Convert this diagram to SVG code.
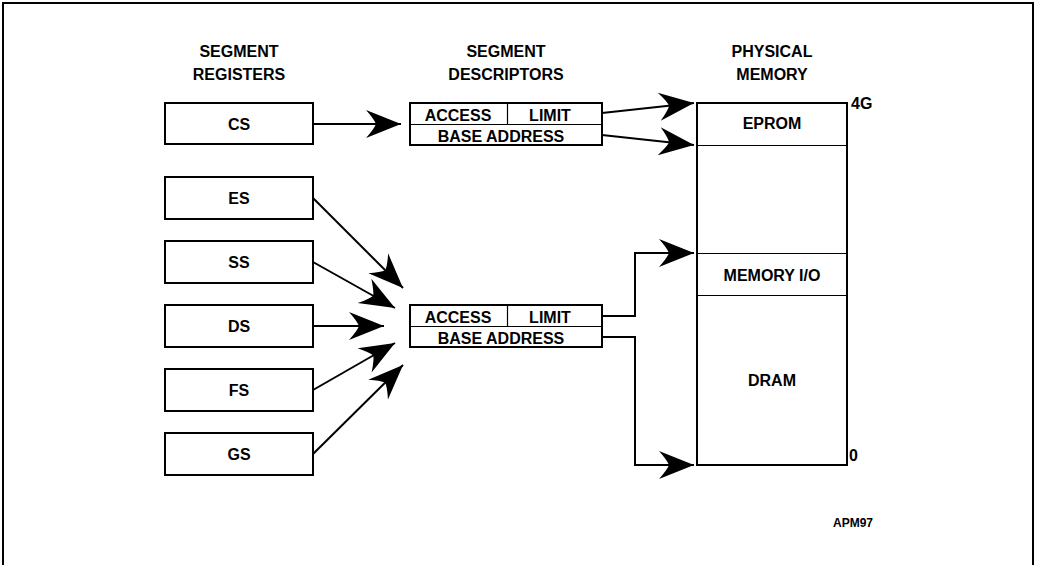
<svg xmlns="http://www.w3.org/2000/svg" width="1042" height="565" viewBox="0 0 1042 565">
<style>
text{font-family:"Liberation Sans",Arial,sans-serif;font-weight:bold;fill:#000;text-anchor:middle}
.t16{font-size:16px}
.t12{font-size:12px}
.box{fill:#fff;stroke:#000;stroke-width:2}
.thin{stroke:#000;stroke-width:1.2;fill:none}
.conn{stroke:#000;stroke-width:2;fill:none;marker-end:url(#ah)}
</style>
<defs>
<marker id="ah" markerUnits="userSpaceOnUse" viewBox="-40 -16 44 32" markerWidth="44" markerHeight="32" refX="0" refY="0" orient="auto">
<path d="M0,0 L-35,-14 Q-27,-5 -25,0 Q-27,5 -35,14 Z" fill="#000"/>
</marker>
</defs>
<rect x="3" y="3" width="1030" height="570" fill="#fff" stroke="#000" stroke-width="2"/>
<g id="headers">
<text class="t16" x="239" y="57">SEGMENT</text>
<text class="t16" x="239" y="80">REGISTERS</text>
<text class="t16" x="506" y="57">SEGMENT</text>
<text class="t16" x="506" y="80">DESCRIPTORS</text>
<text class="t16" x="772" y="57">PHYSICAL</text>
<text class="t16" x="772" y="80">MEMORY</text>
</g>
<g id="reg-cs"><rect class="box" x="165" y="103" width="148" height="41"/><text class="t16" x="239" y="130">CS</text></g>
<g id="reg-es"><rect class="box" x="165" y="177" width="148" height="42"/><text class="t16" x="239" y="204">ES</text></g>
<g id="reg-ss"><rect class="box" x="165" y="241" width="148" height="42"/><text class="t16" x="239" y="268">SS</text></g>
<g id="reg-ds"><rect class="box" x="165" y="305" width="148" height="42"/><text class="t16" x="239" y="332">DS</text></g>
<g id="reg-fs"><rect class="box" x="165" y="369" width="148" height="42"/><text class="t16" x="239" y="396">FS</text></g>
<g id="reg-gs"><rect class="box" x="165" y="433" width="148" height="42"/><text class="t16" x="239" y="460">GS</text></g>
<g id="desc-1">
<rect class="box" x="410" y="103" width="192" height="42"/>
<line class="thin" x1="410" y1="124.5" x2="602" y2="124.5"/>
<line class="thin" x1="507.5" y1="103" x2="507.5" y2="124"/>
<text class="t16" x="458" y="121">ACCESS</text>
<text class="t16" x="550" y="121">LIMIT</text>
<text class="t16" x="501" y="142">BASE ADDRESS</text>
</g>
<g id="desc-2">
<rect class="box" x="410" y="305" width="192" height="42"/>
<line class="thin" x1="410" y1="326.5" x2="602" y2="326.5"/>
<line class="thin" x1="507.5" y1="305" x2="507.5" y2="326"/>
<text class="t16" x="458" y="323">ACCESS</text>
<text class="t16" x="550" y="323">LIMIT</text>
<text class="t16" x="501" y="344">BASE ADDRESS</text>
</g>
<g id="memory">
<rect class="box" x="697" y="103" width="150" height="362"/>
<line class="thin" x1="697" y1="145.5" x2="847" y2="145.5"/>
<line class="thin" x1="697" y1="253.5" x2="847" y2="253.5"/>
<line class="thin" x1="697" y1="295.5" x2="847" y2="295.5"/>
<text class="t16" x="772" y="129">EPROM</text>
<text class="t16" x="772" y="281">MEMORY I/O</text>
<text class="t16" x="772" y="386">DRAM</text>
<text class="t16" x="851" y="109" style="text-anchor:start">4G</text>
<text class="t16" x="849" y="461" style="text-anchor:start">0</text>
</g>
<g id="label"><text class="t12" x="853" y="527">APM97</text></g>
<g id="connectors">
<path class="conn" d="M313,124 L401,124"/>
<path class="conn" d="M602,113 L694,103"/>
<path class="conn" d="M602,135 L694,145"/>
<path class="conn" d="M602,316 H635 V253 H694"/>
<path class="conn" d="M602,337 H635 V465 H694"/>
<path class="conn" d="M313,198 L403,288"/>
<path class="conn" d="M313,262 L395,308"/>
<path class="conn" d="M313,326 L384,326"/>
<path class="conn" d="M313,390 L395,343"/>
<path class="conn" d="M313,454 L403,365"/>
</g>
</svg>
